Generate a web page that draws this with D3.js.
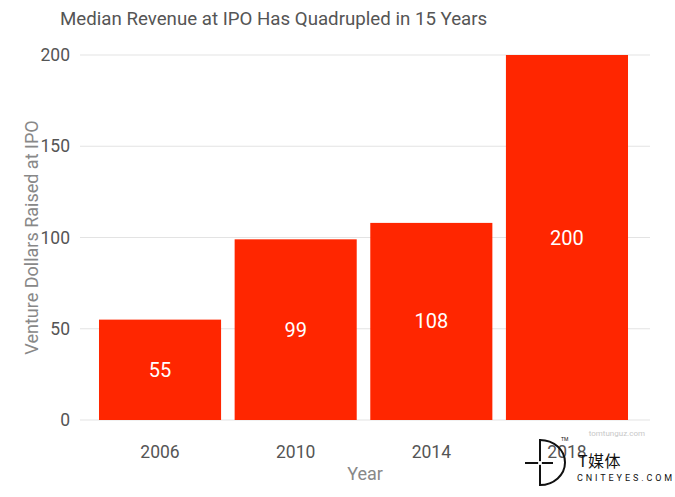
<!DOCTYPE html>
<html><head><meta charset="utf-8">
<script src="https://cdn.jsdelivr.net/npm/d3@7"></script>
<style>body{margin:0;background:#fff}svg{display:block;font-family:Roboto,"Noto Sans",sans-serif}</style>
</head><body>
<svg id="c" width="675" height="497"></svg>
<script>
const categories = ["2006", "2010", "2014", "2018"];
const values = [55, 99, 108, 200];
const yTicks = [0, 50, 100, 150, 200];
const title = "Median Revenue at IPO Has Quadrupled in 15 Years";
const xTitle = "Year";
const yTitle = "Venture Dollars Raised at IPO";

const svg = d3.select("#c");
const pL = 80, pR = 650, pT = 55, pB = 420;
const x = d3.scaleBand().domain(categories).range([pL, pR - 3]).paddingInner(0.1).paddingOuter(0.14);
const y = d3.scaleLinear().domain([0, 200]).range([pB, pT]);

svg.append("text").attr("x", 60).attr("y", 25).attr("font-size", 18.7).attr("fill", "#555").text(title);

svg.append("g").selectAll("line").data(yTicks).join("line")
  .attr("x1", pL).attr("x2", pR).attr("y1", d => y(d)).attr("y2", d => y(d))
  .attr("stroke", "#e3e3e3").attr("stroke-width", 1);

svg.append("g").selectAll("text").data(yTicks).join("text")
  .attr("x", 70).attr("y", d => y(d) + 6).attr("text-anchor", "end")
  .attr("font-size", 17.5).attr("fill", "#555").text(d => d);

svg.append("g").selectAll("rect").data(values).join("rect")
  .attr("x", (d, i) => x(categories[i])).attr("width", x.bandwidth())
  .attr("y", d => y(d)).attr("height", d => y(0) - y(d)).attr("fill", "#ff2600");

svg.append("g").selectAll("text").data(values).join("text")
  .attr("x", (d, i) => x(categories[i]) + x.bandwidth() / 2)
  .attr("y", d => (y(d) + y(0)) / 2 + 7).attr("text-anchor", "middle")
  .attr("font-size", 20).attr("fill", "#fff").text(d => d);

svg.append("g").selectAll("text").data(categories).join("text")
  .attr("x", d => x(d) + x.bandwidth() / 2).attr("y", 458).attr("text-anchor", "middle")
  .attr("font-size", 17.5).attr("fill", "#555").text(d => d);

svg.append("text").attr("x", (pL + pR) / 2).attr("y", 480).attr("text-anchor", "middle")
  .attr("font-size", 18).attr("fill", "#888").text(xTitle);

svg.append("text").attr("transform", `translate(38,${(pT + pB) / 2}) rotate(-90)`)
  .attr("text-anchor", "middle").attr("font-size", 18).attr("fill", "#888").text(yTitle);

svg.append("text").attr("x", 645).attr("y", 436).attr("text-anchor", "end")
  .attr("font-size", 8).attr("fill", "#c8c8c8").text("tomtunguz.com");

// watermark logo
const g = svg.append("g");
g.append("path").attr("d", "M540,440 A25,22.5 0 0 1 540,485").attr("fill", "none").attr("stroke", "#111").attr("stroke-width", 2);
g.append("line").attr("x1", 540).attr("x2", 540).attr("y1", 439).attr("y2", 486).attr("stroke", "#111").attr("stroke-width", 2);
g.append("line").attr("x1", 525).attr("x2", 553).attr("y1", 463).attr("y2", 463).attr("stroke", "#111").attr("stroke-width", 2);
g.append("circle").attr("cx", 540).attr("cy", 463).attr("r", 2).attr("fill", "#fff");
g.append("text").attr("x", 561).attr("y", 441).attr("font-size", 5).attr("fill", "#111").text("TM");
g.append("text").attr("x", 578).attr("y", 467).attr("font-size", 16).attr("letter-spacing", 0.5).attr("fill", "#111")
  .attr("font-family", "'Noto Sans CJK SC',sans-serif").text("T媒体");
g.append("text").attr("x", 577).attr("y", 481).attr("font-size", 9).attr("letter-spacing", 2.9).attr("fill", "#111").text("CNITEYES.COM");
</script>
</body></html>
